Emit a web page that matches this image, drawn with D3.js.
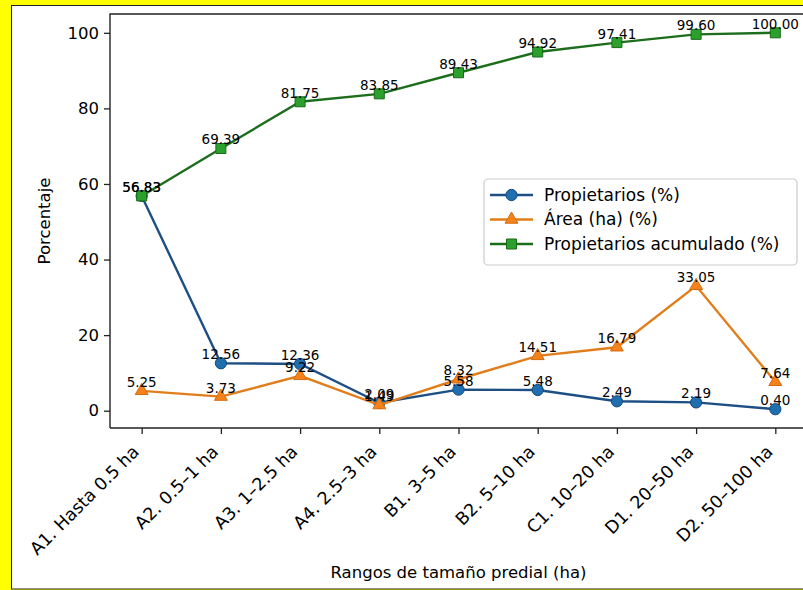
<!DOCTYPE html>
<html><head><meta charset="utf-8">
<script src="https://cdn.jsdelivr.net/npm/d3@7"></script>
<style>body{margin:0;background:#fff}svg{display:block}text{font-family:"DejaVu Sans",sans-serif;fill:#000}</style>
</head><body><svg id="c" width="803" height="590"></svg>
<script>
const categories = ["A1. Hasta 0.5 ha","A2. 0.5–1 ha","A3. 1–2.5 ha","A4. 2.5–3 ha","B1. 3–5 ha","B2. 5–10 ha","C1. 10–20 ha","D1. 20–50 ha","D2. 50–100 ha"];
const propietarios = [56.83, 12.56, 12.36, 2.09, 5.58, 5.48, 2.49, 2.19, 0.40];
const area = [5.25, 3.73, 9.22, 1.49, 8.32, 14.51, 16.79, 33.05, 7.64];
const acumulado = [56.83, 69.39, 81.75, 83.85, 89.43, 94.92, 97.41, 99.60, 100.00];
const yTicks = [0, 20, 40, 60, 80, 100];
const seriesNames = ["Propietarios (%)", "Área (ha) (%)", "Propietarios acumulado (%)"];

const svg = d3.select("#c");
// frame
svg.append("rect").attr("x",0).attr("y",0).attr("width",803).attr("height",590).attr("fill","#ffff00");
svg.append("rect").attr("x",11.5).attr("y",5.5).attr("width",800).attr("height",583.5).attr("fill","#fff").attr("stroke","#222").attr("stroke-width",1);

const L=110, R=807, T=14, B=428;
const x = d3.scalePoint().domain(categories).range([L,R]).padding(0.4);
const y = d3.scaleLinear().domain([-4.58,104.98]).range([B,T]);

const series = [
  {name:seriesNames[0], data:propietarios, line:"#1d4f85", fill:"#1f6eb0", stroke:"#174a7a", sym:d3.symbolCircle, size:100},
  {name:seriesNames[1], data:area, line:"#e27d1b", fill:"#f5821a", stroke:"#d26d10", sym:d3.symbolTriangle, size:72},
  {name:seriesNames[2], data:acumulado, line:"#1c6e1c", fill:"#2ca02c", stroke:"#1a6a1a", sym:d3.symbolSquare, size:100}
];

// axes
const yAxis = svg.append("g").attr("transform",`translate(${L},0)`)
  .call(d3.axisLeft(y).tickValues(yTicks).tickSize(6).tickPadding(5).tickFormat(d3.format("d")));
yAxis.select(".domain").remove();
yAxis.selectAll("line").attr("stroke","#222").attr("stroke-width",1.3);
yAxis.selectAll("text").style("font-size","16.5px").attr("fill","#000").attr("font-family","DejaVu Sans");

const xAxis = svg.append("g").attr("transform",`translate(0,${B})`)
  .call(d3.axisBottom(x).tickSize(6).tickPadding(0));
xAxis.select(".domain").remove();
xAxis.selectAll("line").attr("stroke","#222").attr("stroke-width",1.3);
xAxis.selectAll("text")
  .style("font-size","17.5px").attr("fill","#000").attr("font-family","DejaVu Sans")
  .attr("text-anchor","end").attr("dy",null).attr("y",null)
  .attr("transform","translate(-2,25) rotate(-45)");

// spines
svg.append("path").attr("d",`M${L},${B}V${T}H${R}`).attr("fill","none").attr("stroke","#222").attr("stroke-width",1.4);
svg.append("line").attr("x1",L).attr("x2",R).attr("y1",B).attr("y2",B).attr("stroke","#222").attr("stroke-width",1.4);

// axis titles
svg.append("text").attr("x",(L+R)/2).attr("y",578).attr("text-anchor","middle").style("font-size","16.5px").text("Rangos de tamaño predial (ha)");
svg.append("text").attr("transform",`translate(50,${(T+B)/2}) rotate(-90)`).attr("text-anchor","middle").style("font-size","16.5px").text("Porcentaje");

const line = d3.line().x((d,i)=>x(categories[i])).y(d=>y(d));
series.forEach(s=>{
  const g = svg.append("g");
  g.append("path").datum(s.data).attr("d",line).attr("fill","none").attr("stroke",s.line).attr("stroke-width",2.4);
  g.selectAll("path.m").data(s.data).join("path").attr("class","m")
    .attr("d",d3.symbol(s.sym,s.size)())
    .attr("transform",(d,i)=>`translate(${x(categories[i])},${y(d)})`)
    .attr("fill",s.fill).attr("stroke",s.stroke).attr("stroke-width",1);
});
series.forEach(s=>{
  svg.append("g").selectAll("text").data(s.data).join("text")
    .attr("x",(d,i)=>x(categories[i])).attr("y",d=>y(d)-4)
    .attr("text-anchor","middle").style("font-size","13.5px")
    .text(d=>d.toFixed(2));
});

// legend
const lg = svg.append("g");
lg.append("rect").attr("x",484).attr("y",179).attr("width",313).attr("height",86).attr("rx",4)
  .attr("fill","#fff").attr("fill-opacity",0.85).attr("stroke","#cccccc").attr("stroke-width",1.2);
series.forEach((s,i)=>{
  const cy = 195 + i*24.5;
  lg.append("line").attr("x1",490).attr("x2",533).attr("y1",cy).attr("y2",cy).attr("stroke",s.line).attr("stroke-width",2.4);
  lg.append("path").attr("d",d3.symbol(s.sym,s.size)()).attr("transform",`translate(511.5,${cy})`)
    .attr("fill",s.fill).attr("stroke",s.stroke).attr("stroke-width",1);
  lg.append("text").attr("x",544).attr("y",cy).attr("dy","0.35em").style("font-size","17px").text(s.name);
});
</script></body></html>
